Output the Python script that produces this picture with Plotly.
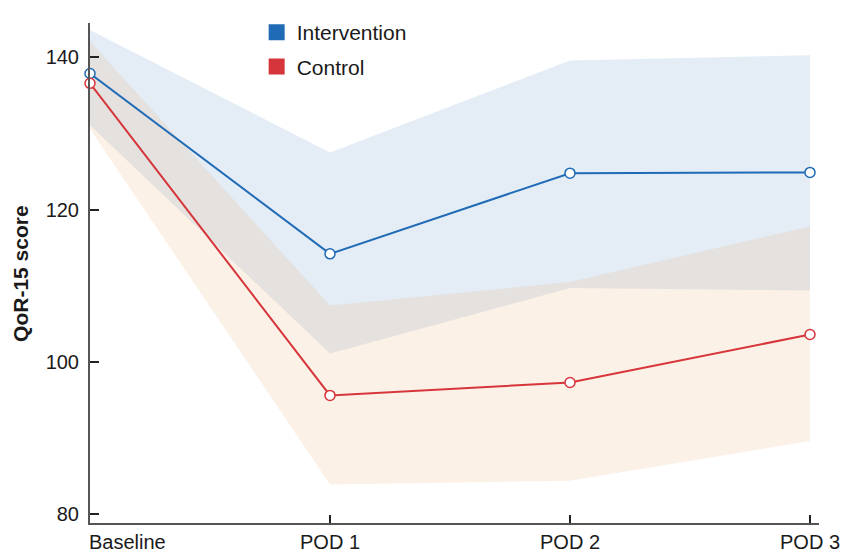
import plotly.graph_objects as go

categories = ["Baseline", "POD 1", "POD 2", "POD 3"]
tick_labels = ["Baseline", "POD 1", "POD 2", "POD 3"]

intervention_mean = [137.9, 114.2, 124.8, 124.9]
intervention_upper = [143.6, 127.5, 139.6, 140.3]
intervention_lower = [131.1, 101.1, 109.7, 109.4]

control_mean = [136.6, 95.6, 97.3, 103.6]
control_upper = [142.1, 107.4, 110.5, 117.8]
control_lower = [130.6, 83.9, 84.4, 89.6]

y_ticks = [80, 100, 120, 140]
y_title = "QoR-15 score"

BLUE = "#1f6bb5"
RED = "#d6363b"
FONT = "Liberation Sans, Arial, sans-serif"
TXT = "#1a1a1a"

fig = go.Figure()

# confidence bands
fig.add_trace(go.Scatter(
    x=categories + categories[::-1],
    y=intervention_upper + intervention_lower[::-1],
    fill="toself", fillcolor="rgba(31,107,181,0.12)",
    line=dict(width=0), mode="lines", showlegend=False, hoverinfo="skip"))
fig.add_trace(go.Scatter(
    x=categories + categories[::-1],
    y=control_upper + control_lower[::-1],
    fill="toself", fillcolor="rgba(230,138,55,0.12)",
    line=dict(width=0), mode="lines", showlegend=False, hoverinfo="skip"))

# mean lines
fig.add_trace(go.Scatter(
    x=categories, y=intervention_mean, mode="lines+markers",
    line=dict(color=BLUE, width=2),
    marker=dict(symbol="circle", size=10, color="white", line=dict(color=BLUE, width=1.5)),
    showlegend=False, cliponaxis=False))
fig.add_trace(go.Scatter(
    x=categories, y=control_mean, mode="lines+markers",
    line=dict(color=RED, width=2),
    marker=dict(symbol="circle", size=10, color="white", line=dict(color=RED, width=1.5)),
    showlegend=False, cliponaxis=False))

# legend entries
for name, col in [("Intervention", BLUE), ("Control", RED)]:
    fig.add_trace(go.Scatter(
        x=[None], y=[None], mode="markers", name=name, legendgroup=name,
        marker=dict(symbol="square", size=18, color=col)))

fig.update_layout(
    width=843, height=551,
    margin=dict(l=90, r=24, t=15, b=28),
    paper_bgcolor="white", plot_bgcolor="white",
    font=dict(family=FONT, size=20, color=TXT),
    legend=dict(x=0.2286, y=1.022, xanchor="left", yanchor="top",
                bgcolor="rgba(0,0,0,0)", font=dict(size=21, color=TXT),
                tracegroupgap=4),
    xaxis=dict(
        type="category", range=[0, 3.0375], automargin=False,
        tickmode="array", tickvals=categories,
        ticktext=[""] + tick_labels[1:],
        ticks="inside", ticklen=8, tickwidth=1.5, tickcolor="#222",
        showline=True, linecolor="#555", linewidth=2,
        showgrid=False, zeroline=False,
        tickfont=dict(size=20, color=TXT)),
    yaxis=dict(
        range=[78.84, 144.53], automargin=False,
        tickvals=y_ticks,
        ticks="inside", ticklen=9, tickwidth=1.5, tickcolor="#222",
        ticklabelstandoff=5,
        showline=True, linecolor="#555", linewidth=2,
        showgrid=False, zeroline=False,
        tickfont=dict(size=20, color=TXT)),
    annotations=[
        dict(x=0, y=0, xref="x", yref="paper", text=tick_labels[0],
             xanchor="left", yanchor="top", xshift=-3, yshift=-6, showarrow=False,
             font=dict(size=20, color=TXT)),
        dict(x=-0.0961, y=0.5, xref="paper", yref="paper", text="<b>" + y_title + "</b>",
             textangle=-90, xanchor="center", yanchor="middle", showarrow=False,
             font=dict(size=21, color=TXT)),
    ],
)

fig.write_html(
    "out.html",
    config={"displayModeBar": False},
    post_script="document.body.style.margin='0';document.body.style.overflow='hidden';",
)
